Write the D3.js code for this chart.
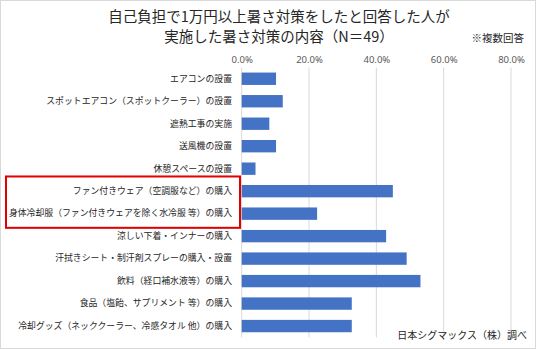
<!DOCTYPE html>
<html><head><meta charset="utf-8">
<script src="https://cdn.jsdelivr.net/npm/d3@7"></script>
<style>body{margin:0;background:#fff}svg{display:block}text{font-family:"Noto Sans CJK JP","Noto Sans",sans-serif}</style>
</head><body>
<svg id="c" width="536" height="349"></svg>
<script>
const categories = [
  "エアコンの設置",
  "スポットエアコン（スポットクーラー）の設置",
  "遮熱工事の実施",
  "送風機の設置",
  "休憩スペースの設置",
  "ファン付きウェア（空調服など）の購入",
  "身体冷却服（ファン付きウェアを除く水冷服 等）の購入",
  "涼しい下着・インナーの購入",
  "汗拭きシート・制汗剤スプレーの購入・設置",
  "飲料（経口補水液等）の購入",
  "食品（塩飴、サプリメント 等）の購入",
  "冷却グッズ（ネッククーラー、冷感タオル 他）の購入"
];
const values = [10.2, 12.2, 8.2, 10.2, 4.1, 44.9, 22.4, 42.9, 49.0, 53.1, 32.7, 32.7];
const tickValues = [0, 20, 40, 60, 80];
const titleLines = ["自己負担で1万円以上暑さ対策をしたと回答した人が", "実施した暑さ対策の内容（N＝49）"];
const note = "※複数回答";
const source = "日本シグマックス（株）調べ";
const highlighted = [5, 6];

const svg = d3.select("#c");
svg.append("rect").attr("x",0.5).attr("y",0.5).attr("width",535).attr("height",348)
  .attr("fill","#fff").attr("stroke","#d9d9d9");

const x = d3.scaleLinear().domain([0,80]).range([241.7,511]);
const y = d3.scaleBand().domain(categories).range([67.5,337.3]).paddingInner(0.45).paddingOuter(0.225);

svg.append("g").selectAll("line").data(tickValues).join("line")
  .attr("x1",d=>x(d)).attr("x2",d=>x(d)).attr("y1",67.5).attr("y2",337.3)
  .attr("stroke","#d9d9d9").attr("stroke-width",1);

const ax = svg.append("g").attr("transform","translate(0,66)")
  .call(d3.axisTop(x).tickValues(tickValues).tickFormat(d=>d.toFixed(1)+"%").tickSize(0).tickPadding(3));
ax.select(".domain").remove();
ax.selectAll("text").attr("fill","#595959").attr("font-size","9.5px").style("font-family","\"Noto Sans\",sans-serif");

svg.append("g").selectAll("rect").data(values).join("rect")
  .attr("x",x(0)).attr("y",(d,i)=>y(categories[i]))
  .attr("width",d=>x(d)-x(0)).attr("height",y.bandwidth())
  .attr("fill","#4472C4");

const ay = svg.append("g").attr("transform","translate(232,0)")
  .call(d3.axisLeft(y).tickSize(0).tickPadding(0));
ay.select(".domain").remove();
ay.selectAll("text").attr("fill","#262626").attr("font-size","8.85px");

const hy0 = y(categories[highlighted[0]]) - 8.5;
const hy1 = y(categories[highlighted[1]]) + y.bandwidth() + 8;
svg.append("rect").attr("x",6).attr("y",hy0).attr("width",234).attr("height",hy1-hy0)
  .attr("fill","none").attr("stroke","#e00000").attr("stroke-width",2);

svg.append("g").selectAll("text").data(titleLines).join("text")
  .attr("x",279).attr("y",(d,i)=>22+i*19.5).attr("text-anchor","middle")
  .attr("font-size","14.5px").attr("fill","#262626").text(d=>d);
svg.append("text").attr("x",524).attr("y",42).attr("text-anchor","end")
  .attr("font-size","10.5px").attr("fill","#262626").text(note);
svg.append("text").attr("x",527).attr("y",339).attr("text-anchor","end")
  .attr("font-size","10px").attr("fill","#262626").text(source);
</script>
</body></html>
